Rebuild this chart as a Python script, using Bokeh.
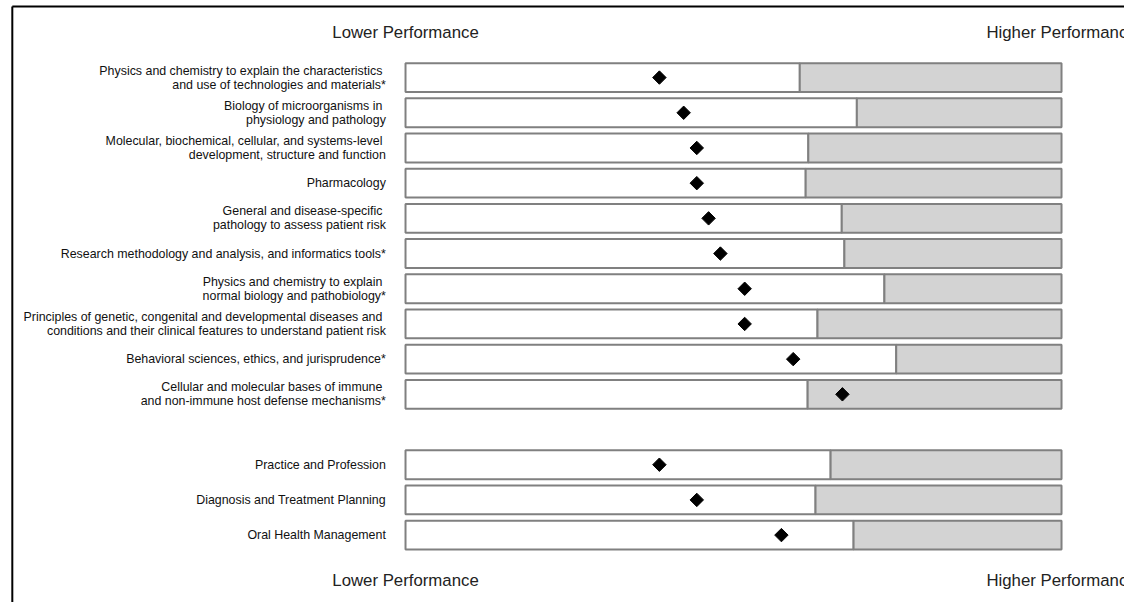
from bokeh.plotting import figure
from bokeh.models import ColumnDataSource, Range1d
from bokeh.core.properties import value
from bokeh.embed import file_html
from bokeh.resources import INLINE
import math

# ---- data ----
categories = [
    "Physics and chemistry to explain the characteristics \nand use of technologies and materials*",
    "Biology of microorganisms in \nphysiology and pathology",
    "Molecular, biochemical, cellular, and systems-level \ndevelopment, structure and function",
    "Pharmacology",
    "General and disease-specific \npathology to assess patient risk",
    "Research methodology and analysis, and informatics tools*",
    "Physics and chemistry to explain \nnormal biology and pathobiology*",
    "Principles of genetic, congenital and developmental diseases and \nconditions and their clinical features to understand patient risk",
    "Behavioral sciences, ethics, and jurisprudence*",
    "Cellular and molecular bases of immune \nand non-immune host defense mechanisms*",
    "Practice and Profession",
    "Diagnosis and Treatment Planning",
    "Oral Health Management",
]
row_pos = [0, 1, 2, 3, 4, 5, 6, 7, 8, 9, 11, 12, 13]
scores = [38.7, 42.4, 44.4, 44.4, 46.2, 48.0, 51.7, 51.7, 59.1, 66.6, 38.7, 44.4, 57.3]
thresholds = [60.1, 68.8, 61.4, 61.0, 66.5, 66.9, 73.0, 62.8, 74.8, 61.3, 64.8, 62.5, 68.3]
scale_min = 0
scale_max = 100
end_labels = ["Lower Performance", "Higher Performance"]

W, H = 1124, 602
x0, x1 = -61.74, 109.60
y_top, y_bot = -2.19, 14.915

src = ColumnDataSource(dict(
    cat=categories, y=row_pos, score=scores, thr=thresholds,
    lo=[scale_min] * len(row_pos), hi=[scale_max] * len(row_pos),
))

p = figure(width=W, height=H, output_backend="svg", toolbar_location=None,
           x_range=Range1d(x0, x1), y_range=Range1d(y_bot, y_top),
           min_border=0, min_border_left=0, min_border_right=0,
           min_border_top=0, min_border_bottom=0)
p.axis.visible = False
p.grid.visible = False
p.outline_line_color = None
p.background_fill_color = "white"
p.border_fill_color = "white"

# bars
p.hbar(y="y", left="lo", right="thr", height=0.82, source=src,
       fill_color="white", line_color="#808080", line_width=2)
p.hbar(y="y", left="thr", right="hi", height=0.82, source=src,
       fill_color="#d3d3d3", line_color="#808080", line_width=2)

# diamonds
p.scatter(x="score", y="y", source=src, marker="square", size=9.5,
          angle=math.pi / 4, fill_color="black", line_color="black")

# category labels
p.text(x=-3.0, y="y", text="cat", source=src, text_align="right",
       text_baseline="middle", text_font=value("Liberation Sans"),
       text_font_size="12.4px", text_color="#111111", text_line_height=1.0)

# end labels
for yy in (-1.28, 14.29):
    p.text(x=[scale_min, scale_max], y=[yy, yy], text=end_labels,
           text_align="center", text_baseline="middle",
           text_font=value("Liberation Sans"), text_font_size="16.8px",
           text_color="#222222")

# frame lines (left and top)
fx, fy = -59.94, -2.02
p.segment(x0=[fx, fx], y0=[fy, fy], x1=[fx, x1], y1=[y_bot, fy],
          line_color="black", line_width=2)

open("out.html", "w").write(file_html(p, INLINE))
